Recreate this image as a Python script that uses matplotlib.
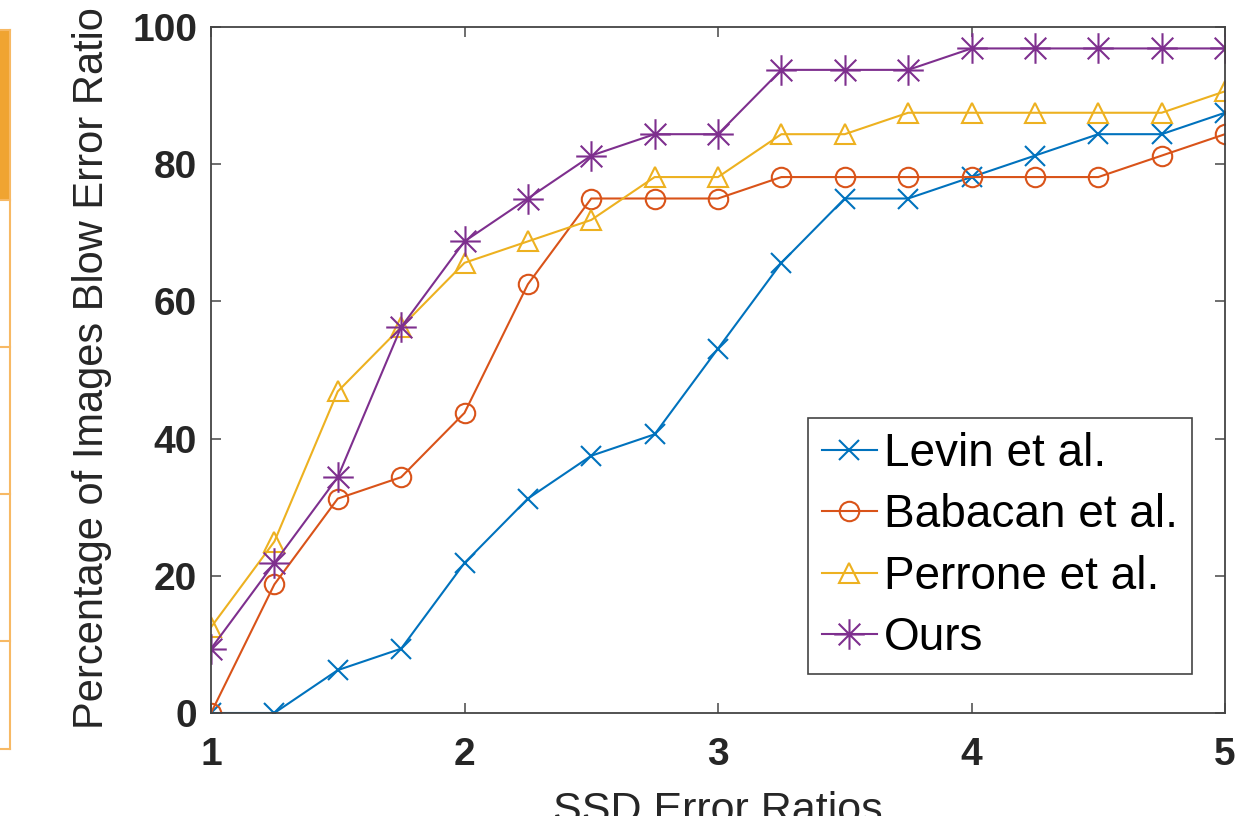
import numpy as np
import matplotlib.pyplot as plt
from matplotlib.path import Path
from matplotlib.patches import Rectangle
from matplotlib.lines import Line2D

# SSD error ratio thresholds
ratios = [1, 1.25, 1.5, 1.75, 2, 2.25, 2.5, 2.75, 3, 3.25, 3.5, 3.75, 4, 4.25, 4.5, 4.75, 5]

# percentage of images below each ratio
levin = [0, 0, 6.25, 9.375, 21.875, 31.25, 37.5, 40.625, 53.125, 65.625,
         75, 75, 78.125, 81.25, 84.375, 84.375, 87.5]
babacan = [0, 18.75, 31.25, 34.375, 43.75, 62.5, 75, 75, 75, 78.125,
           78.125, 78.125, 78.125, 78.125, 78.125, 81.25, 84.375]
perrone = [12.5, 25, 46.875, 56.25, 65.625, 68.75, 71.875, 78.125, 78.125, 84.375,
           84.375, 87.5, 87.5, 87.5, 87.5, 87.5, 90.625]
ours = [9.375, 21.875, 34.375, 56.25, 68.75, 75, 81.25, 84.375, 84.375, 93.75,
        93.75, 93.75, 96.875, 96.875, 96.875, 96.875, 96.875]

labels = ['Levin et al.', 'Babacan et al.', 'Perrone et al.', 'Ours']
xticks = [1, 2, 3, 4, 5]
yticks = [0, 20, 40, 60, 80, 100]

# matlab default line colours
colors = ['#0072BD', '#D95319', '#EDB120', '#7E2F8E']

# matlab style asterisk (plus + cross, line only)
d = np.sqrt(0.5)
asterisk = Path([(-1, 0), (1, 0), (0, -1), (0, 1), (-d, -d), (d, d), (-d, d), (d, -d)],
                [Path.MOVETO, Path.LINETO] * 4)

plt.rcParams['font.family'] = ['Liberation Sans', 'DejaVu Sans']

fig = plt.figure(figsize=(12.4, 8.16), dpi=100)
ax = fig.add_axes([211 / 1240, 1 - 713 / 816, 1014 / 1240, 686 / 816])

lw = 1.5
ax.plot(ratios, levin, color=colors[0], lw=lw, marker='x', ms=15, mew=lw, label=labels[0])
ax.plot(ratios, babacan, color=colors[1], lw=lw, marker='o', ms=14, mew=lw,
        mfc='none', label=labels[1])
ax.plot(ratios, perrone, color=colors[2], lw=lw, marker='^', ms=15, mew=lw,
        mfc='none', label=labels[2])
ax.plot(ratios, ours, color=colors[3], lw=lw, marker=asterisk, ms=22, mew=lw,
        mfc='none', label=labels[3])

ax.set_xlim(1, 5)
ax.set_ylim(0, 100)
ax.set_xticks(xticks)
ax.set_yticks(yticks)
ax.tick_params(direction='in', length=7, width=1.2, color='#555555',
               top=True, right=True, labelsize=28, labelcolor='#262626')
ax.tick_params(axis='x', pad=17)
ax.tick_params(axis='y', pad=10)
for t in ax.get_xticklabels() + ax.get_yticklabels():
    t.set_fontweight('bold')
for s in ax.spines.values():
    s.set_color('#444444')
    s.set_linewidth(1.3)

# x label sits partly below the bottom edge, as in the cropped original
ax.set_xlabel('SSD Error Ratios', fontsize=31, color='#262626', va='top')
ax.xaxis.set_label_coords(0.5, -0.113)
ax.set_ylabel('Percentage of Images Blow Error Ratio', fontsize=30, color='#262626', va='center')
ax.yaxis.set_label_coords(-0.117, 0.503)

leg = ax.legend(loc='upper left', bbox_to_anchor=(0.589, 0.43), borderaxespad=0,
                fontsize=33, handlelength=1.2, handletextpad=0.15, labelspacing=0.38,
                borderpad=0.3, fancybox=False, framealpha=1, edgecolor='#444444')
leg.get_frame().set_linewidth(1.2)

# cropped piece of a neighbouring table on the left edge
orange = '#F0A431'
fig.patches.append(Rectangle((0, 1 - 200 / 816), 10 / 1240, 170 / 816,
                             transform=fig.transFigure, color=orange, lw=0))
fig.lines.append(Line2D([10 / 1240, 10 / 1240], [1 - 30 / 816, 1 - 749 / 816],
                        transform=fig.transFigure, color='#F7B964', lw=1.5))
for yp in [30, 200, 347, 494, 641, 749]:
    fig.lines.append(Line2D([0, 10 / 1240], [1 - yp / 816, 1 - yp / 816],
                            transform=fig.transFigure, color='#F7B964', lw=1.5))

fig.savefig('out.png', dpi=100)
